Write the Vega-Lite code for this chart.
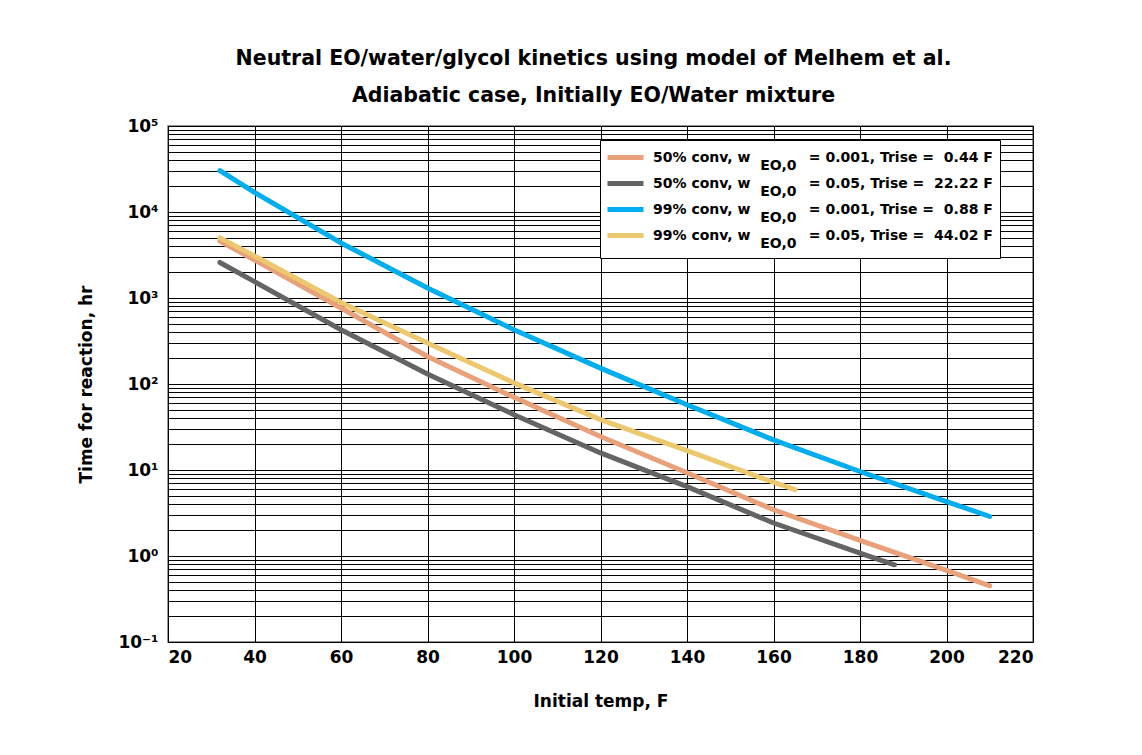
{
  "$schema": "https://vega.github.io/schema/vega-lite/v6.json",
  "autosize": {"type": "none"},
  "width": 865,
  "height": 516,
  "padding": {"left": 168, "top": 126, "right": 109, "bottom": 113},
  "background": "white",
  "title": {
    "text": ["Neutral EO/water/glycol kinetics using model of Melhem et al.", "Adiabatic case, Initially EO/Water mixture"],
    "fontSize": 20.5,
    "fontWeight": "bold",
    "font": "DejaVu Sans",
    "lineHeight": 37,
    "offset": 11,
    "anchor": "middle",
    "dx": -7,
    "color": "black"
  },
  "data": {
    "values": [
      {"series": "50% conv, w EO,0 = 0.001, Trise = 0.44 F", "x": 32, "y": 4600},
      {"series": "50% conv, w EO,0 = 0.001, Trise = 0.44 F", "x": 40, "y": 2770},
      {"series": "50% conv, w EO,0 = 0.001, Trise = 0.44 F", "x": 60, "y": 766},
      {"series": "50% conv, w EO,0 = 0.001, Trise = 0.44 F", "x": 80, "y": 209},
      {"series": "50% conv, w EO,0 = 0.001, Trise = 0.44 F", "x": 100, "y": 70},
      {"series": "50% conv, w EO,0 = 0.001, Trise = 0.44 F", "x": 120, "y": 24.5},
      {"series": "50% conv, w EO,0 = 0.001, Trise = 0.44 F", "x": 140, "y": 9.3},
      {"series": "50% conv, w EO,0 = 0.001, Trise = 0.44 F", "x": 160, "y": 3.45},
      {"series": "50% conv, w EO,0 = 0.001, Trise = 0.44 F", "x": 180, "y": 1.52},
      {"series": "50% conv, w EO,0 = 0.001, Trise = 0.44 F", "x": 200, "y": 0.68},
      {"series": "50% conv, w EO,0 = 0.001, Trise = 0.44 F", "x": 210, "y": 0.45},
      {"series": "50% conv, w EO,0 = 0.05, Trise = 22.22 F", "x": 32, "y": 2590},
      {"series": "50% conv, w EO,0 = 0.05, Trise = 22.22 F", "x": 40, "y": 1550},
      {"series": "50% conv, w EO,0 = 0.05, Trise = 22.22 F", "x": 60, "y": 428},
      {"series": "50% conv, w EO,0 = 0.05, Trise = 22.22 F", "x": 80, "y": 131},
      {"series": "50% conv, w EO,0 = 0.05, Trise = 22.22 F", "x": 100, "y": 44},
      {"series": "50% conv, w EO,0 = 0.05, Trise = 22.22 F", "x": 120, "y": 15.8},
      {"series": "50% conv, w EO,0 = 0.05, Trise = 22.22 F", "x": 140, "y": 6.4},
      {"series": "50% conv, w EO,0 = 0.05, Trise = 22.22 F", "x": 160, "y": 2.42},
      {"series": "50% conv, w EO,0 = 0.05, Trise = 22.22 F", "x": 180, "y": 1.08},
      {"series": "50% conv, w EO,0 = 0.05, Trise = 22.22 F", "x": 188, "y": 0.79},
      {"series": "99% conv, w EO,0 = 0.001, Trise = 0.88 F", "x": 32, "y": 30200},
      {"series": "99% conv, w EO,0 = 0.001, Trise = 0.88 F", "x": 40, "y": 16900},
      {"series": "99% conv, w EO,0 = 0.001, Trise = 0.88 F", "x": 60, "y": 4370},
      {"series": "99% conv, w EO,0 = 0.001, Trise = 0.88 F", "x": 80, "y": 1306},
      {"series": "99% conv, w EO,0 = 0.001, Trise = 0.88 F", "x": 100, "y": 428},
      {"series": "99% conv, w EO,0 = 0.001, Trise = 0.88 F", "x": 120, "y": 153},
      {"series": "99% conv, w EO,0 = 0.001, Trise = 0.88 F", "x": 140, "y": 57.4},
      {"series": "99% conv, w EO,0 = 0.001, Trise = 0.88 F", "x": 160, "y": 22.4},
      {"series": "99% conv, w EO,0 = 0.001, Trise = 0.88 F", "x": 180, "y": 9.6},
      {"series": "99% conv, w EO,0 = 0.001, Trise = 0.88 F", "x": 200, "y": 4.3},
      {"series": "99% conv, w EO,0 = 0.001, Trise = 0.88 F", "x": 210, "y": 2.88},
      {"series": "99% conv, w EO,0 = 0.05, Trise = 44.02 F", "x": 32, "y": 5000},
      {"series": "99% conv, w EO,0 = 0.05, Trise = 44.02 F", "x": 40, "y": 3090},
      {"series": "99% conv, w EO,0 = 0.05, Trise = 44.02 F", "x": 60, "y": 889},
      {"series": "99% conv, w EO,0 = 0.05, Trise = 44.02 F", "x": 80, "y": 300},
      {"series": "99% conv, w EO,0 = 0.05, Trise = 44.02 F", "x": 100, "y": 103},
      {"series": "99% conv, w EO,0 = 0.05, Trise = 44.02 F", "x": 120, "y": 38.5},
      {"series": "99% conv, w EO,0 = 0.05, Trise = 44.02 F", "x": 140, "y": 16.8},
      {"series": "99% conv, w EO,0 = 0.05, Trise = 44.02 F", "x": 160, "y": 7.2},
      {"series": "99% conv, w EO,0 = 0.05, Trise = 44.02 F", "x": 165, "y": 5.9}
    ]
  },
  "mark": {"type": "line", "strokeWidth": 5, "strokeCap": "round", "strokeJoin": "round"},
  "encoding": {
    "x": {
      "field": "x",
      "type": "quantitative",
      "scale": {"domain": [20, 220], "nice": false, "zero": false},
      "axis": {
        "title": "Initial temp, F",
        "values": [20, 40, 60, 80, 100, 120, 140, 160, 180, 200, 220],
        "grid": true,
        "gridColor": "black",
        "gridOpacity": 1,
        "gridWidth": 1,
        "ticks": false,
        "domain": false,
        "labelPadding": 7,
        "labelFontSize": 17,
        "labelFontWeight": "bold",
        "labelColor": "black",
        "labelFont": "DejaVu Sans",
        "titleFont": "DejaVu Sans",
        "titleFontSize": 17,
        "titleFontWeight": "bold",
        "titleColor": "black",
        "titlePadding": 28
      }
    },
    "y": {
      "field": "y",
      "type": "quantitative",
      "scale": {"type": "log", "domain": [0.1, 100000], "nice": false},
      "axis": {
        "title": "Time for reaction, hr",
        "values": [0.1, 0.2, 0.3, 0.4, 0.5, 0.6, 0.7, 0.8, 0.9, 1, 2, 3, 4, 5, 6, 7, 8, 9, 10, 20, 30, 40, 50, 60, 70, 80, 90, 100, 200, 300, 400, 500, 600, 700, 800, 900, 1000, 2000, 3000, 4000, 5000, 6000, 7000, 8000, 9000, 10000, 20000, 30000, 40000, 50000, 60000, 70000, 80000, 90000, 100000],
        "labelExpr": "datum.value == 100000 ? '10⁵' : datum.value == 10000 ? '10⁴' : datum.value == 1000 ? '10³' : datum.value == 100 ? '10²' : datum.value == 10 ? '10¹' : datum.value == 1 ? '10⁰' : datum.value == 0.1 ? '10⁻¹' : ''",
        "labelOverlap": false,
        "grid": true,
        "gridColor": "black",
        "gridOpacity": 1,
        "gridWidth": 1,
        "ticks": false,
        "domain": false,
        "labelPadding": 10,
        "labelFontSize": 17,
        "labelFontWeight": "bold",
        "labelColor": "black",
        "labelFont": "DejaVu Sans",
        "titleFont": "DejaVu Sans",
        "titleFontSize": 17,
        "titleFontWeight": "bold",
        "titleColor": "black",
        "titlePadding": 22
      }
    },
    "color": {
      "field": "series",
      "type": "nominal",
      "sort": ["50% conv, w EO,0 = 0.001, Trise = 0.44 F", "50% conv, w EO,0 = 0.05, Trise = 22.22 F", "99% conv, w EO,0 = 0.001, Trise = 0.88 F", "99% conv, w EO,0 = 0.05, Trise = 44.02 F"],
      "scale": {
        "domain": ["50% conv, w EO,0 = 0.001, Trise = 0.44 F", "50% conv, w EO,0 = 0.05, Trise = 22.22 F", "99% conv, w EO,0 = 0.001, Trise = 0.88 F", "99% conv, w EO,0 = 0.05, Trise = 44.02 F"],
        "range": ["#E8A17B", "#646464", "#00AEEF", "#ECC86E"]
      },
      "legend": {
        "title": null,
        "orient": "none",
        "legendX": 432,
        "legendY": 14,
        "fillColor": "white",
        "strokeColor": "black",
        "padding": 7,
        "symbolType": "M-2.25,0L2.25,0",
        "symbolSize": 256,
        "symbolStrokeWidth": 5,
        "symbolOffset": 8,
        "labelFontSize": 14,
        "labelFontWeight": "bold",
        "labelFont": "DejaVu Sans",
        "labelColor": "black",
        "labelLimit": 600,
        "labelOffset": 17,
        "rowPadding": -8,
        "labelExpr": "[pad(slice(datum.value, 0, 11), 23, '\u00a0') + (datum.value == '50% conv, w EO,0 = 0.001, Trise = 0.44 F' ? '= 0.001, Trise =\u00a0\u00a00.44 F' : datum.value == '50% conv, w EO,0 = 0.05, Trise = 22.22 F' ? '= 0.05, Trise =\u00a0\u00a022.22 F' : datum.value == '99% conv, w EO,0 = 0.001, Trise = 0.88 F' ? '= 0.001, Trise =\u00a0\u00a00.88 F' : '= 0.05, Trise =\u00a0\u00a044.02 F'), '\u200b' + pad('EO,0', 26, '\u00a0', 'left')]"
      }
    }
  },
  "config": {
    "view": {"stroke": "#777", "strokeWidth": 1.5},
    "style": {"guide-label": {"lineHeight": 8}}
  }
}
